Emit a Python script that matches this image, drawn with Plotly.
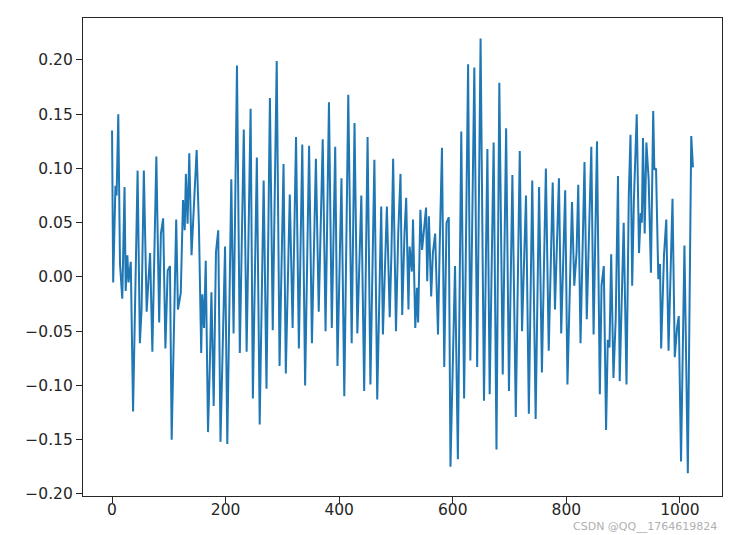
import plotly.graph_objects as go

# sample index and signal value at the turning points
sample_idx = [
    0, 2, 6, 8, 11, 14, 18, 22, 24, 27, 29, 33, 37, 45, 49, 52, 56, 61, 64, 67,
    71, 74, 78, 83, 86, 90, 94, 98, 102, 105, 113, 116, 121, 125, 128, 130, 133, 136, 140, 143,
    149, 153, 157, 159, 162, 165, 169, 172, 175, 179, 183, 187, 191, 199, 203, 210, 214, 220, 225, 232,
    237, 244, 248, 255, 260, 267, 272, 278, 283, 290, 295, 302, 306, 313, 318, 324, 329, 335, 340, 347,
    352, 359, 364, 371, 376, 382, 387, 393, 397, 404, 409, 416, 422, 427, 432, 439, 444, 450, 455, 462,
    467, 474, 477, 484, 489, 492, 495, 500, 504, 508, 511, 515, 518, 522, 524, 528, 530, 534, 537, 539,
    543, 546, 549, 553, 555, 558, 562, 565, 569, 574, 577, 581, 585, 589, 593, 596, 604, 609, 615, 620,
    627, 631, 638, 643, 649, 655, 661, 665, 672, 677, 682, 688, 694, 699, 705, 711, 718, 722, 729, 734,
    740, 746, 752, 757, 764, 769, 776, 780, 787, 791, 798, 802, 810, 814, 818, 821, 825, 832, 836, 840,
    844, 848, 854, 859, 862, 866, 870, 873, 876, 879, 883, 887, 891, 894, 901, 906, 910, 913, 916, 919,
    924, 928, 931, 933, 935, 938, 941, 945, 949, 953, 955, 958, 962, 965, 967, 972, 976, 980, 983, 987,
    991, 995, 998, 1002, 1008, 1014, 1020, 1023,
]
signal = [
    0.135, -0.005, 0.084, 0.075, 0.150, 0.012, -0.020, 0.083, -0.013, 0.020, -0.005, 0.014, -0.124, 0.098, -0.061, -0.030, 0.098, -0.032, -0.004, 0.022,
    -0.069, 0.009, 0.111, -0.042, 0.040, 0.054, -0.066, 0.006, 0.010, -0.150, 0.053, -0.030, -0.015, 0.071, 0.043, 0.095, 0.049, 0.114, 0.020, 0.053,
    0.117, 0.047, -0.070, -0.016, -0.047, 0.015, -0.143, -0.085, -0.014, -0.119, 0.023, 0.043, -0.152, 0.028, -0.154, 0.090, -0.052, 0.195, -0.070, 0.136,
    -0.069, 0.155, -0.112, 0.110, -0.136, 0.089, -0.103, 0.165, -0.049, 0.199, -0.082, 0.104, -0.089, 0.076, -0.047, 0.129, -0.066, 0.122, -0.100, 0.121,
    -0.061, 0.109, -0.032, 0.127, -0.050, 0.161, -0.047, 0.120, -0.082, 0.091, -0.110, 0.168, -0.061, 0.142, -0.052, 0.075, -0.105, 0.129, -0.099, 0.108,
    -0.113, 0.065, -0.053, 0.065, -0.037, 0.022, 0.109, -0.050, 0.040, 0.095, -0.035, 0.040, 0.073, -0.030, 0.028, 0.005, 0.053, -0.047, -0.010, -0.042,
    0.062, 0.025, 0.040, 0.064, -0.004, 0.056, -0.018, 0.022, 0.040, -0.053, 0.028, 0.119, -0.083, 0.050, 0.055, -0.175, 0.010, -0.168, 0.134, -0.112,
    0.196, -0.077, 0.193, -0.083, 0.2197, -0.114, 0.118, -0.108, 0.124, -0.159, 0.179, -0.090, 0.137, -0.105, 0.094, -0.129, 0.116, -0.050, 0.075, -0.126,
    0.089, -0.131, 0.083, -0.088, 0.100, -0.068, 0.087, -0.030, 0.091, -0.052, 0.080, -0.099, 0.069, -0.008, 0.022, 0.085, -0.061, 0.106, -0.039, 0.040,
    0.120, -0.053, 0.125, -0.108, -0.008, 0.010, -0.141, -0.058, -0.065, 0.021, -0.093, -0.038, 0.093, -0.096, 0.050, -0.099, 0.075, 0.131, -0.008, 0.071,
    0.150, 0.022, 0.059, 0.050, 0.128, 0.040, 0.124, 0.090, 0.004, 0.153, 0.099, 0.100, -0.002, 0.012, -0.066, 0.020, 0.053, -0.068, 0.002, 0.072,
    -0.074, -0.047, -0.036, -0.170, 0.029, -0.181, 0.130, 0.101,
]

x_ticks = [0, 200, 400, 600, 800, 1000]
y_ticks = [-0.20, -0.15, -0.10, -0.05, 0.00, 0.05, 0.10, 0.15, 0.20]
watermark = "CSDN @QQ__1764619824"

fig = go.Figure()
fig.add_trace(go.Scatter(
    x=sample_idx, y=signal, mode="lines",
    line=dict(color="#1f77b4", width=2),
    showlegend=False,
))

axis_common = dict(
    showline=True, mirror=True, linecolor="#262626", linewidth=1.1,
    ticks="outside", ticklen=6, tickwidth=1.1, tickcolor="#262626",
    showgrid=False, zeroline=False,
    tickfont=dict(family="DejaVu Sans", size=15.5, color="#262626"),
)

fig.update_layout(
    width=729, height=527,
    margin=dict(l=75, r=15, t=10, b=39),
    paper_bgcolor="white", plot_bgcolor="white",
    xaxis=dict(range=[-51.15, 1074.15], tickvals=x_ticks, ticklabelstandoff=-7,
               ticktext=[str(v) for v in x_ticks], **axis_common),
    yaxis=dict(range=[-0.2019, 0.2387], tickvals=y_ticks,
               ticktext=[f"{v:.2f}".replace("-", "\u2212") for v in y_ticks], **axis_common),
    annotations=[dict(
        text=watermark, xref="paper", yref="paper", x=0.995, y=-0.064,
        xanchor="right", yanchor="middle", showarrow=False,
        font=dict(family="DejaVu Sans", size=11, color="#b0b0b0"),
    )],
)

fig.write_html("out.html")
